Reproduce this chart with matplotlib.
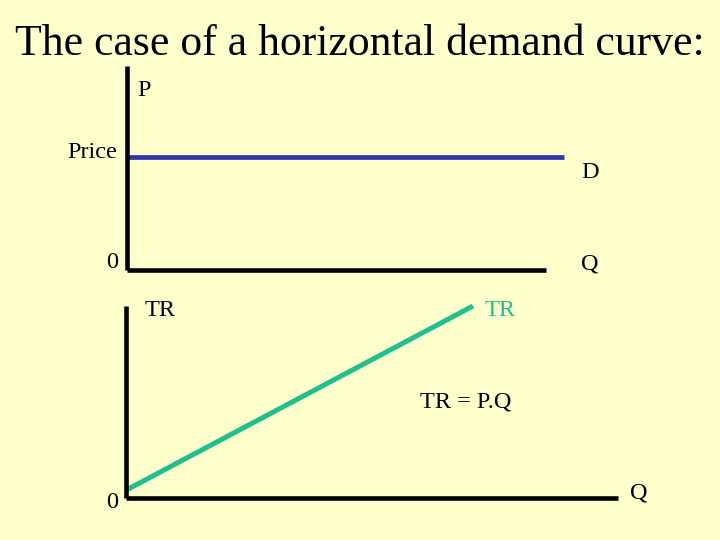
import matplotlib
matplotlib.use("Agg")
import matplotlib.pyplot as plt

# top panel: horizontal demand curve
demand_q = [0.0, 10.43]
demand_p = [5.54, 5.54]

# bottom panel: total revenue
tr_q = [0.0, 7.05]
tr_val = [0.42, 10.0]

BG = "#FFFFCC"
BLUE = "#3333AA"
GREEN = "#1FBF8F"
W, H = 720, 540

plt.rcParams["font.family"] = ["Liberation Serif", "DejaVu Serif"]

fig = plt.figure(figsize=(7.2, 5.4), dpi=100, facecolor=BG)


def px(x, y):
    # pixel position (from top-left) to figure fraction
    return x / W, 1 - y / H


def make_axes(x0, y0, x1, y1):
    ax = fig.add_axes([x0 / W, 1 - y1 / H, (x1 - x0) / W, (y1 - y0) / H])
    ax.set_facecolor("none")
    ax.set_xlim(0, 10)
    ax.set_ylim(0, 10)
    for side in ("top", "right"):
        ax.spines[side].set_visible(False)
    for side in ("left", "bottom"):
        ax.spines[side].set_linewidth(3.3)
        ax.spines[side].set_color("black")
        ax.spines[side].set_capstyle("butt")
    ax.set_xticks([])
    ax.set_yticks([])
    return ax


ax1 = make_axes(127, 66, 546, 270)
ax1.plot(demand_q, demand_p, color=BLUE, lw=3.4, solid_capstyle="butt", clip_on=False)

ax2 = make_axes(126.5, 306, 618, 498)
ax2.plot(tr_q, tr_val, color=GREEN, lw=3.6, solid_capstyle="butt", clip_on=False)

fs = 17.5
fig.text(*px(359.5, 55), "The case of a horizontal demand curve:", fontsize=31.5,
         ha="center", va="baseline")

fig.text(*px(137, 90), "P", fontsize=fs, ha="left", va="center")
fig.text(*px(117, 152), "Price", fontsize=fs, ha="right", va="center")
fig.text(*px(118, 262), "0", fontsize=fs, ha="right", va="center")
fig.text(*px(581, 173), "D", fontsize=fs, ha="left", va="center")
fig.text(*px(581, 264), "Q", fontsize=fs, ha="left", va="center")

fig.text(*px(145, 311), "TR", fontsize=fs, ha="left", va="center")
fig.text(*px(485, 311), "TR", fontsize=fs, ha="left", va="center", color=GREEN)
fig.text(*px(420, 402), "TR = P.Q", fontsize=fs, ha="left", va="center")
fig.text(*px(118, 503), "0", fontsize=fs, ha="right", va="center")
fig.text(*px(630, 493), "Q", fontsize=fs, ha="left", va="center")

fig.savefig("out.png", dpi=100, facecolor=BG)
